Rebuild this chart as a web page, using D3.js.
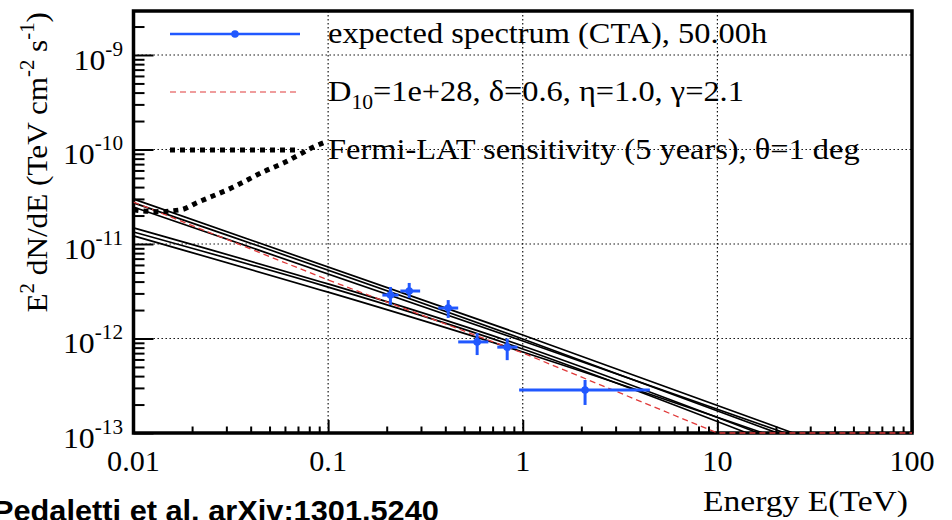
<!DOCTYPE html>
<html><head><meta charset="utf-8">
<script src="https://cdn.jsdelivr.net/npm/d3@7"></script>
<style>
body{margin:0;background:#fff;} svg{display:block;}
.serif{font-family:"Liberation Serif","Times New Roman",Times,serif;}
.sans{font-family:"Liberation Sans",Arial,Helvetica,sans-serif;font-weight:bold;}
</style>
</head><body>
<svg id="c" width="952" height="520"></svg>
<script>
// ---------- data ----------
const xTickValues = [0.01, 0.1, 1, 10, 100];
const xTickLabels = ["0.01", "0.1", "1", "10", "100"];
const yTickValues = [1e-13, 1e-12, 1e-11, 1e-10, 1e-9];
const yTickExponents = ["-13", "-12", "-11", "-10", "-9"];

// CTA expected spectrum points
const ctaE   = [0.209, 0.261, 0.414, 0.583, 0.832, 2.09];
const ctaElo = [0.19, 0.235, 0.368, 0.466, 0.74, 0.958];
const ctaEhi = [0.23, 0.297, 0.466, 0.666, 0.94, 4.5];
const ctaF   = [2.88e-12, 3.18e-12, 2.1e-12, 9.2e-13, 8.1e-13, 2.85e-13];
const ctaFlo = [2.26e-12, 2.68e-12, 1.65e-12, 6.68e-13, 5.9e-13, 1.98e-13];
const ctaFhi = [3.51e-12, 3.87e-12, 2.55e-12, 1.14e-12, 1.0e-12, 3.64e-13];

// model (red dashed)
const modelE = [0.01, 0.1, 1, 10, 100];
const modelF = [2.78e-11, 4.16e-12, 7.03e-13, 1e-13, 1e-13];

// Fermi-LAT sensitivity (5 years)
const fermiE = [0.01, 0.013, 0.0175, 0.0213, 0.0326, 0.0465, 0.0589, 0.0891, 0.097];
const fermiF = [2.3e-11, 2.2e-11, 2.3e-11, 2.75e-11, 4.0e-11, 5.8e-11, 7.2e-11, 1.12e-10, 1.2e-10];

// black spectra
const line1E = [0.01, 1, 24.5];  const line1F = [2.99e-11, 1.09e-12, 1e-13];
const line2E = [0.01, 1, 20.3];  const line2F = [2.72e-11, 9.88e-13, 1e-13];
const line3E = [0.01, 1, 22.3];  const line3F = [2.46e-11, 9.4e-13, 1e-13];
const line4E = [0.01, 1, 16.2];  const line4F = [1.48e-11, 8.33e-13, 1e-13];
const line5E = [0.01, 1, 14.2];  const line5F = [1.34e-11, 7.74e-13, 1e-13];
const line6E = [0.01, 1, 17.2];  const line6F = [1.22e-11, 7.2e-13, 1e-13];

const legendLabels = ["expected spectrum (CTA), 50.00h", "D10=1e+28, δ=0.6, η=1.0, γ=2.1", "Fermi-LAT sensitivity (5 years), θ=1 deg"];

// ---------- layout ----------
const L = 133.5, R = 912, T = 11, B = 433;
const BLUE = "#2158ff";

const svg = d3.select("#c");
const x = d3.scaleLog().domain([0.01, 100]).range([L, R]);
const y = d3.scaleLog().domain([1e-13, 2.92e-9]).range([B, T]).clamp(true);

svg.append("defs").append("clipPath").attr("id", "clip")
  .append("rect").attr("x", L).attr("y", T - 2).attr("width", R - L).attr("height", B - T + 3);

// grid
const grid = svg.append("g").attr("stroke", "#000").attr("stroke-width", 1.1).attr("stroke-dasharray", "1.4,2.6");
grid.selectAll(".gx").data(xTickValues.slice(1, 4)).enter().append("line")
  .attr("x1", d => x(d)).attr("x2", d => x(d)).attr("y1", T).attr("y2", B);
grid.selectAll(".gy").data(yTickValues.slice(1)).enter().append("line")
  .attr("x1", L).attr("x2", R).attr("y1", d => y(d)).attr("y2", d => y(d));

// frame
svg.append("rect").attr("x", L).attr("y", T).attr("width", R - L).attr("height", B - T)
  .attr("fill", "none").attr("stroke", "#000").attr("stroke-width", 3.5);

// axes ticks
const isMajor = (v, arr) => arr.some(m => Math.abs(Math.log10(m) - Math.log10(v)) < 1e-6);
const xMinor = x.ticks().filter(v => !isMajor(v, xTickValues));
const yMinor = y.ticks().filter(v => !isMajor(v, yTickValues));
function styleAxis(g) { g.select(".domain").remove(); g.selectAll("line").attr("stroke-width", 2); g.selectAll("text").remove(); }
svg.append("g").attr("transform", `translate(0,${B})`).call(d3.axisBottom(x).tickValues(xTickValues).tickSize(-13)).call(styleAxis);
svg.append("g").attr("transform", `translate(0,${B})`).call(d3.axisBottom(x).tickValues(xMinor).tickSize(-6.5)).call(styleAxis);
svg.append("g").attr("transform", `translate(${L},0)`).call(d3.axisLeft(y).tickValues(yTickValues).tickSize(-20)).call(styleAxis);
svg.append("g").attr("transform", `translate(${L},0)`).call(d3.axisLeft(y).tickValues(yMinor).tickSize(-11)).call(styleAxis);

// helper for horizontally scaled text
function stext(parent, tx, ty, sx, anchor, size, cls) {
  return parent.append("g").attr("transform", `translate(${tx},${ty}) scale(${sx},1)`)
    .append("text").attr("class", cls || "serif").attr("text-anchor", anchor)
    .style("font-size", size + "px").attr("fill", "#000");
}

// x tick labels
xTickValues.forEach((v, i) => {
  stext(svg, x(v), 471, 1.04, "middle", 29).text(xTickLabels[i]);
});
// y tick labels
yTickValues.forEach((v, i) => {
  const t = stext(svg, 123, y(v) + 15, 1.06, "end", 30);
  t.append("tspan").text("10");
  t.append("tspan").style("font-size", "20px").attr("dy", -14).text(yTickExponents[i]);
});

// axis titles
{
  const t = svg.append("g").attr("transform", "translate(47,12) rotate(-90) scale(1.04,1)")
    .append("text").attr("class", "serif").attr("text-anchor", "end").style("font-size", "30px");
  t.append("tspan").text("E");
  t.append("tspan").style("font-size", "20px").attr("dy", -13).text("2");
  t.append("tspan").attr("dy", 13).text(" dN/dE (TeV cm");
  t.append("tspan").style("font-size", "20px").attr("dy", -13).text("-2");
  t.append("tspan").attr("dy", 13).text(" s");
  t.append("tspan").style("font-size", "20px").attr("dy", -13).text("-1");
  t.append("tspan").attr("dy", 13).text(")");
}
stext(svg, 908, 511, 1.12, "end", 30).text("Energy E(TeV)");
stext(svg, -7, 521, 1.06, "start", 29, "sans").text("Pedaletti et al. arXiv:1301.5240");

// curves
const plot = svg.append("g").attr("clip-path", "url(#clip)");
const smooth = d3.line().x(d => x(d[0])).y(d => y(d[1])).curve(d3.curveMonotoneX);
const straight = d3.line().x(d => x(d[0])).y(d => y(d[1]));
const zip = (a, b) => a.map((v, i) => [v, b[i]]);
[[line1E, line1F], [line2E, line2F], [line3E, line3F], [line4E, line4F], [line5E, line5F], [line6E, line6F]].forEach(([e, f]) => {
  plot.append("path").attr("d", smooth(zip(e, f))).attr("fill", "none").attr("stroke", "#000").attr("stroke-width", 1.7);
});
plot.append("path").attr("d", straight(zip(modelE, modelF))).attr("fill", "none")
  .attr("stroke", "#e03a3a").attr("stroke-width", 1.3).attr("stroke-dasharray", "6,4");
plot.append("path").attr("d", smooth(zip(fermiE, fermiF))).attr("fill", "none")
  .attr("stroke", "#000").attr("stroke-width", 5).attr("stroke-dasharray", "5,5");

// CTA points
const pts = svg.append("g").attr("stroke", BLUE).attr("stroke-width", 3);
ctaE.forEach((e, i) => {
  pts.append("line").attr("x1", x(ctaElo[i])).attr("x2", x(ctaEhi[i])).attr("y1", y(ctaF[i])).attr("y2", y(ctaF[i]));
  pts.append("line").attr("x1", x(e)).attr("x2", x(e)).attr("y1", y(ctaFlo[i])).attr("y2", y(ctaFhi[i]));
  pts.append("circle").attr("cx", x(e)).attr("cy", y(ctaF[i])).attr("r", 3.8).attr("fill", BLUE).attr("stroke", "none");
});

// legend
const lg = svg.append("g");
const ly = [34, 92, 150];
lg.append("line").attr("x1", 170).attr("x2", 300).attr("y1", ly[0]).attr("y2", ly[0]).attr("stroke", BLUE).attr("stroke-width", 2.5);
lg.append("circle").attr("cx", 235).attr("cy", ly[0]).attr("r", 3.8).attr("fill", BLUE);
lg.append("line").attr("x1", 170).attr("x2", 300).attr("y1", ly[1]).attr("y2", ly[1]).attr("stroke", "#e03a3a").attr("stroke-width", 1.2).attr("stroke-dasharray", "6,4");
lg.append("line").attr("x1", 170).attr("x2", 300).attr("y1", ly[2]).attr("y2", ly[2]).attr("stroke", "#000").attr("stroke-width", 5).attr("stroke-dasharray", "5,5");

stext(lg, 328, ly[0] + 9, 1.08, "start", 30).text(legendLabels[0]);
{
  const t = stext(lg, 328, ly[1] + 9, 1.08, "start", 30);
  t.append("tspan").text("D");
  t.append("tspan").style("font-size", "20px").attr("dy", 8).text("10");
  t.append("tspan").attr("dy", -8).text(legendLabels[1].slice(3));
}
stext(lg, 328, ly[2] + 9, 1.08, "start", 30).text(legendLabels[2]);
</script>
</body></html>
